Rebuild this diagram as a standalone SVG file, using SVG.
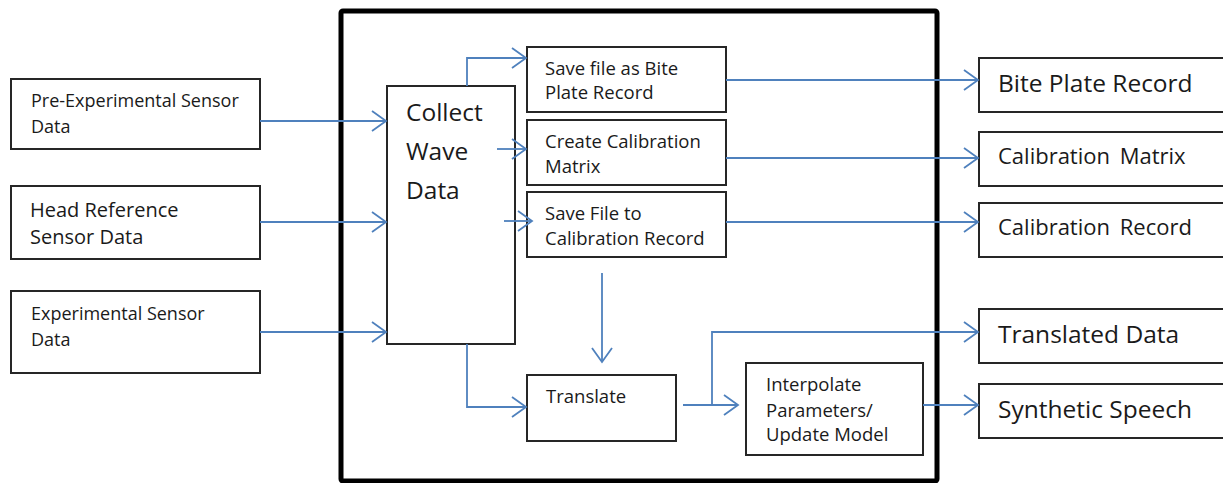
<svg xmlns="http://www.w3.org/2000/svg" width="1223" height="483" viewBox="0 0 1223 483">
  <style>
    .box { fill: #ffffff; stroke: #262626; stroke-width: 2; }
    .frame { fill: none; stroke: #000000; stroke-width: 5; }
    .t { font-family: "Open Sans", "Liberation Sans", sans-serif; fill: #1a1a1a; }
    .s { font-size: 18px; }
    .m { font-size: 18.5px; }
    .l { font-size: 24.5px; }
    .r { font-size: 22px; word-spacing: 4px; }
    .c { fill: none; stroke: #4F81BD; stroke-width: 1.8; }
  </style>
  <defs>
    <marker id="chev" markerUnits="userSpaceOnUse" viewBox="-16 -12 18 24" refX="0" refY="0" markerWidth="18" markerHeight="24" orient="auto">
      <path d="M-14,-10 L0,0 L-14,10" fill="none" stroke="#4F81BD" stroke-width="1.8"/>
    </marker>
  </defs>

  <!-- outer processing frame -->
  <rect class="frame" x="341" y="11" width="596" height="470" rx="2"/>

  <!-- input nodes -->
  <g id="pre-experimental">
    <rect class="box" x="11" y="79" width="249" height="70"/>
    <text class="t s" x="31" y="107">Pre-Experimental Sensor</text>
    <text class="t s" x="31" y="133">Data</text>
  </g>
  <g id="head-reference">
    <rect class="box" x="11" y="186" width="249" height="73"/>
    <text class="t" font-size="20" x="30" y="217">Head Reference</text>
    <text class="t" font-size="20" x="30" y="244">Sensor Data</text>
  </g>
  <g id="experimental">
    <rect class="box" x="11" y="291" width="249" height="82"/>
    <text class="t s" x="31" y="320">Experimental Sensor</text>
    <text class="t s" x="31" y="346">Data</text>
  </g>

  <!-- processing nodes -->
  <g id="collect">
    <rect class="box" x="387" y="86" width="128" height="258"/>
    <text class="t l" x="406" y="121">Collect</text>
    <text class="t l" x="406" y="160">Wave</text>
    <text class="t l" x="406" y="199">Data</text>
  </g>
  <g id="save-bite">
    <rect class="box" x="527" y="47" width="199" height="65"/>
    <text class="t m" x="545" y="75">Save file as Bite</text>
    <text class="t m" x="545" y="99">Plate Record</text>
  </g>
  <g id="create-calibration">
    <rect class="box" x="527" y="120" width="199" height="65"/>
    <text class="t m" x="545" y="148">Create Calibration</text>
    <text class="t m" x="545" y="173">Matrix</text>
  </g>
  <g id="save-calibration">
    <rect class="box" x="527" y="192" width="199" height="65"/>
    <text class="t m" x="545" y="220">Save File to</text>
    <text class="t m" x="545" y="245">Calibration Record</text>
  </g>
  <g id="translate">
    <rect class="box" x="527" y="375" width="149" height="66"/>
    <text class="t m" x="546" y="403">Translate</text>
  </g>
  <g id="interpolate">
    <rect class="box" x="746" y="363" width="177" height="92"/>
    <text class="t m" x="766" y="391">Interpolate</text>
    <text class="t m" x="766" y="417">Parameters/</text>
    <text class="t m" x="766" y="441">Update Model</text>
  </g>

  <!-- output nodes -->
  <g id="bite-plate-record">
    <rect class="box" x="979" y="58" width="270" height="54"/>
    <text class="t l" x="998" y="92">Bite Plate Record</text>
  </g>
  <g id="calibration-matrix">
    <rect class="box" x="979" y="132" width="270" height="54"/>
    <text class="t r" x="998" y="164">Calibration Matrix</text>
  </g>
  <g id="calibration-record">
    <rect class="box" x="979" y="203" width="270" height="54"/>
    <text class="t r" x="998" y="235">Calibration Record</text>
  </g>
  <g id="translated-data">
    <rect class="box" x="979" y="309" width="270" height="54"/>
    <text class="t l" x="998" y="343">Translated Data</text>
  </g>
  <g id="synthetic-speech">
    <rect class="box" x="979" y="384" width="270" height="54"/>
    <text class="t l" x="998" y="418">Synthetic Speech</text>
  </g>

  <!-- connectors -->
  <g id="connectors" class="c" marker-end="url(#chev)">
    <path d="M260,121 H386"/>
    <path d="M260,222 H386"/>
    <path d="M260,332 H386"/>
    <path d="M467,86 V58 H526"/>
    <path d="M497,149 H526"/>
    <path d="M504,221 H532"/>
    <path d="M726,80 H978"/>
    <path d="M726,158 H978"/>
    <path d="M726,222 H978"/>
    <path d="M602,273 V362"/>
    <path d="M467,344 V407 H526"/>
    <path d="M683,405 H738"/>
    <path d="M712,405 V332 H978"/>
    <path d="M923,405 H978"/>
  </g>
</svg>
